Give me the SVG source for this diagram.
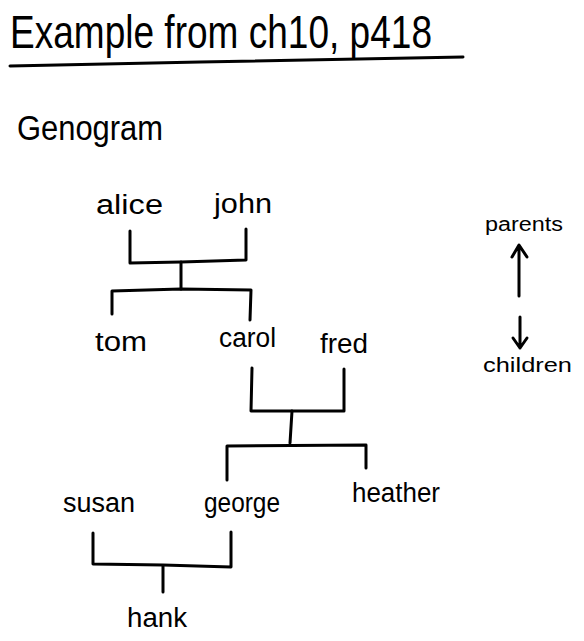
<svg xmlns="http://www.w3.org/2000/svg" width="584" height="641" viewBox="0 0 584 641">
<style>
text{font-family:"Liberation Sans","DejaVu Sans",sans-serif;fill:#000}
.n{font-size:27px}
.l{font-size:20px}
.c{fill:none;stroke:#000;stroke-width:3;stroke-linecap:round;stroke-linejoin:round}
</style>
<rect width="584" height="641" fill="#fff"/>
<g id="title">
<text x="10" y="48" font-size="46" textLength="422" lengthAdjust="spacingAndGlyphs">Example from ch10, p418</text>
<path class="c" d="M10 66 L200 62 L463 57"/>
</g>
<g id="subtitle"><text x="17" y="140" font-size="35" textLength="146" lengthAdjust="spacingAndGlyphs">Genogram</text></g>
<g id="alice"><text class="n" x="96" y="214" textLength="67" lengthAdjust="spacingAndGlyphs">alice</text></g>
<g id="john"><text class="n" x="214" y="213" textLength="58" lengthAdjust="spacingAndGlyphs">john</text></g>
<g id="tom"><text class="n" x="95" y="351" textLength="52" lengthAdjust="spacingAndGlyphs">tom</text></g>
<g id="carol"><text class="n" x="219" y="347" textLength="57" lengthAdjust="spacingAndGlyphs">carol</text></g>
<g id="fred"><text class="n" x="320" y="353" textLength="48" lengthAdjust="spacingAndGlyphs">fred</text></g>
<g id="susan"><text class="n" x="63" y="512" textLength="72" lengthAdjust="spacingAndGlyphs">susan</text></g>
<g id="george"><text class="n" x="204" y="512" textLength="76" lengthAdjust="spacingAndGlyphs">george</text></g>
<g id="heather"><text class="n" x="352" y="502" textLength="88" lengthAdjust="spacingAndGlyphs">heather</text></g>
<g id="hank"><text class="n" x="127" y="627" textLength="60" lengthAdjust="spacingAndGlyphs">hank</text></g>
<g id="legend">
<text class="l" x="485" y="231" textLength="78" lengthAdjust="spacingAndGlyphs">parents</text>
<text class="l" x="483" y="372" textLength="89" lengthAdjust="spacingAndGlyphs">children</text>
<path class="c" d="M519 296 L519 246 M512 257 L519 245 L527 257"/>
<path class="c" d="M520 317 L520 348 M513 338 L520 348 L527 338"/>
</g>
<g id="connectors">
<path class="c" d="M130 231 L130 263 L181 262 L246 260 L246 229"/>
<path class="c" d="M181 262 L181 289"/>
<path class="c" d="M112 314 L112 291 L181 289 L251 290 L250 320"/>
<path class="c" d="M252 368 L251 411 L344 411 L344 369"/>
<path class="c" d="M292 411 L290 443"/>
<path class="c" d="M227 480 L227 446 L366 445 L366 468"/>
<path class="c" d="M93 533 L93 564 L163 565 L231 567 L231 532"/>
<path class="c" d="M163 566 L163 592"/>
</g>
</svg>
